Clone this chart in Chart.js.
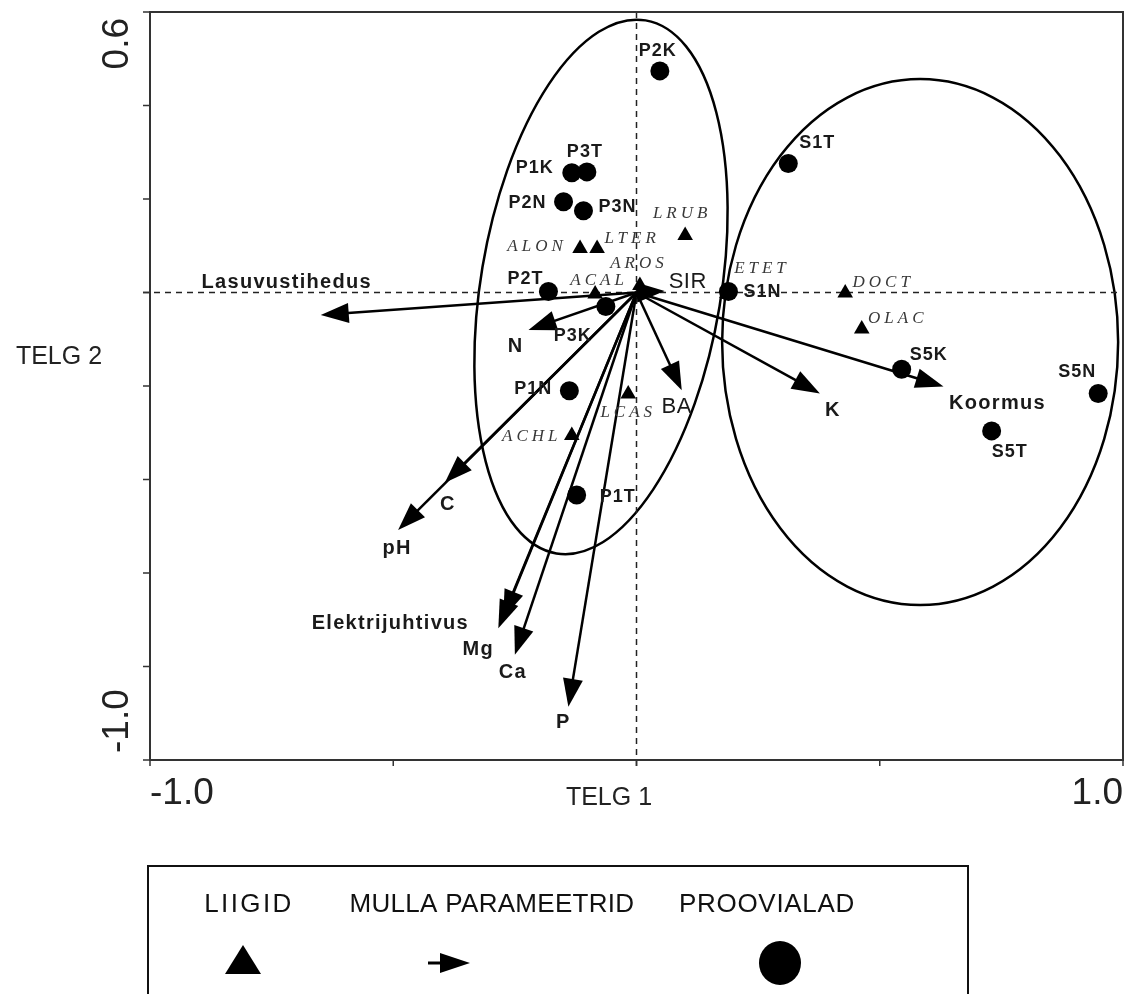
<!DOCTYPE html>
<html lang="et">
<head>
<meta charset="UTF-8">
<title>Ordinatsioonidiagramm</title>
<script src="https://cdn.jsdelivr.net/npm/chart.js"></script>
<style>
  html, body { margin: 0; padding: 0; background: #fff; }
  canvas { display: block; }
</style>
</head>
<body>
<canvas id="ordChart" width="1129" height="994"></canvas>
<script>
// Proovialad (sites) - scores on TELG 1 / TELG 2
const siteNames = ['P2K', 'P1K', 'P3T', 'P2N', 'P3N', 'P2T', 'P3K', 'P1N', 'P1T', 'S1T', 'S1N', 'S5K', 'S5N', 'S5T'];
const siteTelg1 = [0.048, -0.133, -0.102, -0.150, -0.109, -0.181, -0.063, -0.138, -0.123, 0.312, 0.189, 0.545, 0.949, 0.730];
const siteTelg2 = [0.474, 0.256, 0.258, 0.194, 0.175, 0.002, -0.030, -0.210, -0.433, 0.276, 0.002, -0.164, -0.216, -0.296];

// Liigid (species)
const speciesNames = ['ALON', 'LTER', 'LRUB', 'ACAL', 'AROS', 'LCAS', 'ACHL', 'ETET', 'DOCT', 'OLAC'];
const speciesTelg1 = [-0.116, -0.081, 0.100, -0.085, 0.007, -0.017, -0.133, 0.186, 0.429, 0.463];
const speciesTelg2 = [0.094, 0.094, 0.122, -0.003, 0.015, -0.217, -0.306, -0.002, -0.001, -0.078];

// Mulla parameetrid (soil vectors, drawn from the origin)
const soilNames = ['Lasuvustihedus', 'N', 'SIR', 'BA', 'K', 'Koormus', 'C', 'pH', 'Elektrijuhtivus', 'Mg', 'Ca', 'P'];
const soilTelg1 = [-0.649, -0.222, 0.058, 0.093, 0.377, 0.631, -0.394, -0.490, -0.284, -0.274, -0.250, -0.140];
const soilTelg2 = [-0.048, -0.080, 0.003, -0.209, -0.216, -0.201, -0.407, -0.508, -0.718, -0.696, -0.775, -0.886];

// axis ticks
const xTicks = [-1, -0.5, 0, 0.5, 1];
const yTicks = [0.6, 0.4, 0.2, 0, -0.2, -0.4, -0.6, -0.8, -1.0];
const xTickLabels = ['-1.0', '1.0'];
const yTickLabels = ['0.6', '-1.0'];

// group outlines, in axis units (tilt in degrees)
const groupEllipses = [
  { cx: -0.073, cy: 0.012, rx: 0.247, ry: 0.578, tilt: 9.5 },
  { cx: 0.583, cy: -0.106, rx: 0.407, ry: 0.5625, tilt: 0 }
];

// label offsets from the mark, px
const siteLabelOffset = {
  P2K: [-2, -20], P1K: [-37, -5], P3T: [-2, -20], P2N: [-36, 1], P3N: [34, -4],
  P2T: [-23, -13], P3K: [-33, 30], P1N: [-36, -2], P1T: [41, 2], S1T: [29, -20],
  S1N: [34, 0], S5K: [27, -14], S5N: [-21, -21], S5T: [18, 21]
};
const speciesLabelOffset = {
  ALON: [-43, -2], LTER: [35, -10], LRUB: [-3, -22], ACAL: [4, -13], AROS: [-1, -22],
  LCAS: [0, 19], ACHL: [-40, 1], ETET: [35, -25], DOCT: [38, -10], OLAC: [36, -10]
};
const soilLabelOffset = {
  Lasuvustihedus: [-34, -32], N: [-13, 17], SIR: [23, -9], BA: [-5, 17], K: [13, 17],
  Koormus: [54, 17], C: [3, 22], pH: [-1, 18], Elektrijuhtivus: [-108, -5], Mg: [-25, 32],
  Ca: [-2, 18], P: [-5, 16]
};

function drawText(ctx, text, px, py, font, color, spacing, align) {
  ctx.font = font;
  ctx.fillStyle = color;
  ctx.letterSpacing = (spacing || 0) + 'px';
  ctx.textAlign = align || 'center';
  ctx.textBaseline = 'middle';
  ctx.fillText(text, px, py);
}

function arrow(ctx, x0, y0, x1, y1, len, half) {
  const dx = x1 - x0, dy = y1 - y0;
  const d = Math.hypot(dx, dy);
  const ux = dx / d, uy = dy / d;
  ctx.beginPath();
  ctx.moveTo(x0, y0);
  ctx.lineTo(x1 - ux * len * 0.6, y1 - uy * len * 0.6);
  ctx.stroke();
  const bx = x1 - ux * len, by = y1 - uy * len;
  ctx.beginPath();
  ctx.moveTo(x1, y1);
  ctx.lineTo(bx - uy * half, by + ux * half);
  ctx.lineTo(bx + uy * half, by - ux * half);
  ctx.closePath();
  ctx.fill();
}

const ordinationDecor = {
  id: 'ordinationDecor',
  beforeDatasetsDraw(chart) {
    const { ctx, chartArea: a, scales: { x, y } } = chart;
    ctx.save();

    // group ellipses
    ctx.strokeStyle = '#000';
    ctx.lineWidth = 2.5;
    groupEllipses.forEach(e => {
      const cx = x.getPixelForValue(e.cx), cy = y.getPixelForValue(e.cy);
      const rx = Math.abs(x.getPixelForValue(e.cx + e.rx) - cx);
      const ry = Math.abs(y.getPixelForValue(e.cy + e.ry) - cy);
      ctx.beginPath();
      ctx.ellipse(cx, cy, rx, ry, e.tilt * Math.PI / 180, 0, Math.PI * 2);
      ctx.stroke();
    });

    // dashed zero lines
    const x0 = x.getPixelForValue(0), y0 = y.getPixelForValue(0);
    ctx.strokeStyle = '#222';
    ctx.lineWidth = 1.5;
    ctx.setLineDash([6, 5]);
    ctx.beginPath();
    ctx.moveTo(a.left - 7, y0); ctx.lineTo(a.right, y0);
    ctx.moveTo(x0, a.top); ctx.lineTo(x0, a.bottom + 10);
    ctx.stroke();
    ctx.setLineDash([]);

    // soil vectors
    ctx.strokeStyle = '#000';
    ctx.fillStyle = '#000';
    ctx.lineWidth = 2.5;
    soilNames.forEach((n, i) => {
      arrow(ctx, x0, y0, x.getPixelForValue(soilTelg1[i]), y.getPixelForValue(soilTelg2[i]), 28, 10);
    });
    ctx.restore();
  },
  afterDraw(chart) {
    const { ctx, chartArea: a, scales: { x, y } } = chart;
    ctx.save();

    // frame
    ctx.strokeStyle = '#333';
    ctx.lineWidth = 2;
    ctx.strokeRect(a.left, a.top, a.right - a.left, a.bottom - a.top);

    // tick marks
    ctx.lineWidth = 1.5;
    ctx.beginPath();
    xTicks.forEach(v => {
      const px = x.getPixelForValue(v);
      ctx.moveTo(px, a.bottom); ctx.lineTo(px, a.bottom + 6);
    });
    yTicks.forEach(v => {
      const py = y.getPixelForValue(v);
      ctx.moveTo(a.left - 7, py); ctx.lineTo(a.left, py);
    });
    ctx.stroke();

    // tick labels at the axis ends
    ctx.font = '37px "Liberation Sans", Arial, sans-serif';
    ctx.fillStyle = '#222';
    ctx.letterSpacing = '0px';
    ctx.textBaseline = 'alphabetic';
    ctx.textAlign = 'left';
    ctx.fillText(xTickLabels[0], x.getPixelForValue(-1), a.bottom + 44);
    ctx.textAlign = 'right';
    ctx.fillText(xTickLabels[1], x.getPixelForValue(1), a.bottom + 44);

    ctx.save();
    ctx.translate(a.left - 22, y.getPixelForValue(0.6) + 6);
    ctx.rotate(-Math.PI / 2);
    ctx.textAlign = 'right';
    ctx.fillText(yTickLabels[0], 0, 0);
    ctx.restore();
    ctx.save();
    ctx.translate(a.left - 22, y.getPixelForValue(-1) - 7);
    ctx.rotate(-Math.PI / 2);
    ctx.textAlign = 'left';
    ctx.fillText(yTickLabels[1], 0, 0);
    ctx.restore();

    // axis titles
    drawText(ctx, 'TELG 1', 609, a.bottom + 38, '25px "Liberation Sans", Arial, sans-serif', '#222', 0);
    drawText(ctx, 'TELG 2', 59, 357, '25px "Liberation Sans", Arial, sans-serif', '#222', 0);

    // site labels
    const siteFont = 'bold 18px "Liberation Sans", Arial, sans-serif';
    siteNames.forEach((n, i) => {
      const o = siteLabelOffset[n];
      drawText(ctx, n, x.getPixelForValue(siteTelg1[i]) + o[0], y.getPixelForValue(siteTelg2[i]) + o[1], siteFont, '#1a1a1a', 1);
    });

    // species labels
    const spFont = 'italic 17px "Liberation Serif", "Times New Roman", serif';
    speciesNames.forEach((n, i) => {
      const o = speciesLabelOffset[n];
      drawText(ctx, n, x.getPixelForValue(speciesTelg1[i]) + o[0], y.getPixelForValue(speciesTelg2[i]) + o[1], spFont, '#383838', 4);
    });

    // soil vector labels
    soilNames.forEach((n, i) => {
      const o = soilLabelOffset[n];
      const big = (n === 'SIR' || n === 'BA');
      const f = big ? '22px "Liberation Sans", Arial, sans-serif' : 'bold 20px "Liberation Sans", Arial, sans-serif';
      drawText(ctx, n, x.getPixelForValue(soilTelg1[i]) + o[0], y.getPixelForValue(soilTelg2[i]) + o[1], f, '#1a1a1a', big ? 0.5 : 1.3);
    });

    // legend box
    ctx.strokeStyle = '#111';
    ctx.lineWidth = 2;
    ctx.strokeRect(148, 866, 820, 160);
    const legFont = '26px "Liberation Sans", Arial, sans-serif';
    drawText(ctx, 'LIIGID', 249, 905, legFont, '#111', 2.4);
    drawText(ctx, 'MULLA PARAMEETRID', 492, 905, legFont, '#111', 0.3);
    drawText(ctx, 'PROOVIALAD', 767, 905, legFont, '#111', 0.7);

    ctx.fillStyle = '#000';
    ctx.beginPath();
    ctx.moveTo(243, 945); ctx.lineTo(261, 974); ctx.lineTo(225, 974);
    ctx.closePath();
    ctx.fill();

    ctx.strokeStyle = '#000';
    ctx.lineWidth = 3;
    arrow(ctx, 428, 963, 470, 963, 30, 10);

    ctx.beginPath();
    ctx.ellipse(780, 963, 21, 22, 0, 0, Math.PI * 2);
    ctx.fill();

    ctx.restore();
  }
};

new Chart(document.getElementById('ordChart'), {
  type: 'scatter',
  data: {
    datasets: [
      {
        label: 'PROOVIALAD',
        data: siteNames.map((n, i) => ({ x: siteTelg1[i], y: siteTelg2[i] })),
        pointStyle: 'circle',
        pointRadius: 9.5,
        pointBorderWidth: 0,
        backgroundColor: '#000',
        borderColor: '#000'
      },
      {
        label: 'LIIGID',
        data: speciesNames.map((n, i) => ({ x: speciesTelg1[i], y: speciesTelg2[i] })),
        pointStyle: 'triangle',
        pointRadius: 9,
        pointBorderWidth: 0,
        backgroundColor: '#000',
        borderColor: '#000'
      }
    ]
  },
  options: {
    responsive: false,
    animation: false,
    layout: { autoPadding: false, padding: { left: 150, right: 6, top: 12, bottom: 234 } },
    scales: {
      x: { type: 'linear', min: -1, max: 1, display: false },
      y: { type: 'linear', min: -1, max: 0.6, display: false }
    },
    plugins: {
      legend: { display: false },
      tooltip: { enabled: false }
    }
  },
  plugins: [ordinationDecor]
});
</script>
</body>
</html>
